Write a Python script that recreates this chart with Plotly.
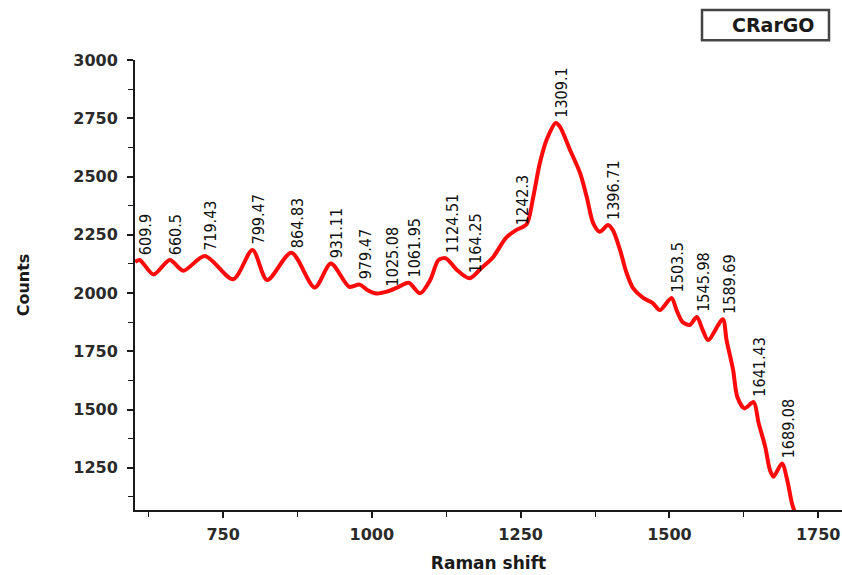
import numpy as np
import plotly.graph_objects as go

# Raman spectrum of CRarGO (Raman shift in cm-1, intensity in counts)
raman_shift = [602, 609.9, 633, 660.5, 683, 719.43, 767, 799.47, 824, 864.83,
               904, 931.11, 962, 979.47, 993, 1008, 1025.08, 1043, 1061.95, 1081,
               1098, 1112, 1124.51, 1143, 1164.25, 1184, 1204, 1225, 1242.3, 1260,
               1271, 1282, 1294, 1309.1, 1316, 1333, 1350, 1361, 1372, 1383,
               1396.71, 1405, 1417, 1428, 1439, 1456, 1472, 1484, 1503.5, 1512,
               1522, 1534, 1545.98, 1556, 1565, 1589.69, 1596, 1607, 1614, 1626,
               1641.43, 1650, 1661, 1669, 1675, 1689.08, 1698, 1706, 1716]
counts = [2134, 2142, 2080, 2142, 2096, 2159, 2059, 2185, 2056, 2173,
          2024, 2127, 2027, 2036, 2012, 1998, 2006, 2024, 2044, 1999,
          2056, 2142, 2149, 2099, 2063, 2107, 2155, 2236, 2270, 2295,
          2410, 2555, 2660, 2730, 2714, 2614, 2514, 2413, 2299, 2263,
          2292, 2270, 2185, 2086, 2021, 1979, 1957, 1927, 1979, 1927,
          1876, 1863, 1897, 1841, 1798, 1888, 1798, 1670, 1555, 1505,
          1532, 1441, 1340, 1240, 1212, 1269, 1197, 1097, 1020]

# Labelled peak positions
peak_labels = ["609.9", "660.5", "719.43", "799.47", "864.83", "931.11", "979.47",
               "1025.08", "1061.95", "1124.51", "1164.25", "1242.3", "1309.1",
               "1396.71", "1503.5", "1545.98", "1589.69", "1641.43", "1689.08"]
peak_shift = [float(s) for s in peak_labels]

x_ticks = [750, 1000, 1250, 1500, 1750]
y_ticks = [1250, 1500, 1750, 2000, 2250, 2500, 2750, 3000]

fig = go.Figure()
fig.add_trace(go.Scatter(
    x=raman_shift, y=counts, mode="lines",
    line=dict(color="#ff0a0a", width=4, shape="spline", smoothing=0.8),
    name="CRarGO", showlegend=False, hoverinfo="skip",
))

peak_counts = np.interp(peak_shift, raman_shift, counts)
for lab, px, py in zip(peak_labels, peak_shift, peak_counts):
    fig.add_annotation(
        x=px, y=py, text=lab, showarrow=False, textangle=-90,
        xanchor="center", yanchor="bottom", xshift=6, yshift=3,
        font=dict(family="DejaVu Sans Condensed, DejaVu Sans", size=16, color="#111111"),
    )

# Legend-style label box
fig.add_shape(type="rect", xref="paper", yref="paper",
              x0=0.802, x1=0.9816, y0=1.044, y1=1.111,
              line=dict(color="#444444", width=2.5), fillcolor="white")
fig.add_annotation(xref="paper", yref="paper", x=0.903, y=1.078,
                   text="<b>CRarGO</b>", showarrow=False,
                   xanchor="center", yanchor="middle",
                   font=dict(family="DejaVu Sans", size=19, color="#1a1a1a"))

axis_font = dict(family="DejaVu Sans", size=16, color="#2a2a2a", weight="bold")
fig.update_xaxes(
    range=[602, 1790], tickvals=x_ticks, ticktext=[str(v) for v in x_ticks],
    showline=True, linecolor="#1a1a1a", linewidth=2, mirror=False,
    ticks="outside", ticklen=6, tickwidth=1.6, tickcolor="#1a1a1a",
    minor=dict(dtick=125, tick0=625, ticks="outside", ticklen=5, tickwidth=1.4,
               tickcolor="#1a1a1a", showgrid=False),
    showgrid=False, zeroline=False, tickfont=axis_font, ticklabelstandoff=3,
    title=dict(text="<b>Raman shift</b>", standoff=14,
               font=dict(family="DejaVu Sans", size=17, color="#1a1a1a")),
)
fig.update_yaxes(
    range=[1069, 3000], tickvals=y_ticks, ticktext=[str(v) for v in y_ticks],
    showline=True, linecolor="#1a1a1a", linewidth=2, mirror=False,
    ticks="outside", ticklen=6, tickwidth=1.6, tickcolor="#1a1a1a",
    minor=dict(dtick=125, tick0=1125, ticks="outside", ticklen=5, tickwidth=1.4,
               tickcolor="#1a1a1a", showgrid=False),
    showgrid=False, zeroline=False, tickfont=axis_font, ticklabelstandoff=6,
    title=dict(text="<b>Counts</b>", standoff=40,
               font=dict(family="DejaVu Sans", size=16, color="#1a1a1a")),
)
fig.update_layout(
    width=842, height=575,
    margin=dict(l=135, r=0, t=60, b=65),
    paper_bgcolor="white", plot_bgcolor="white",
    showlegend=False,
)
fig.write_html("out.html")
